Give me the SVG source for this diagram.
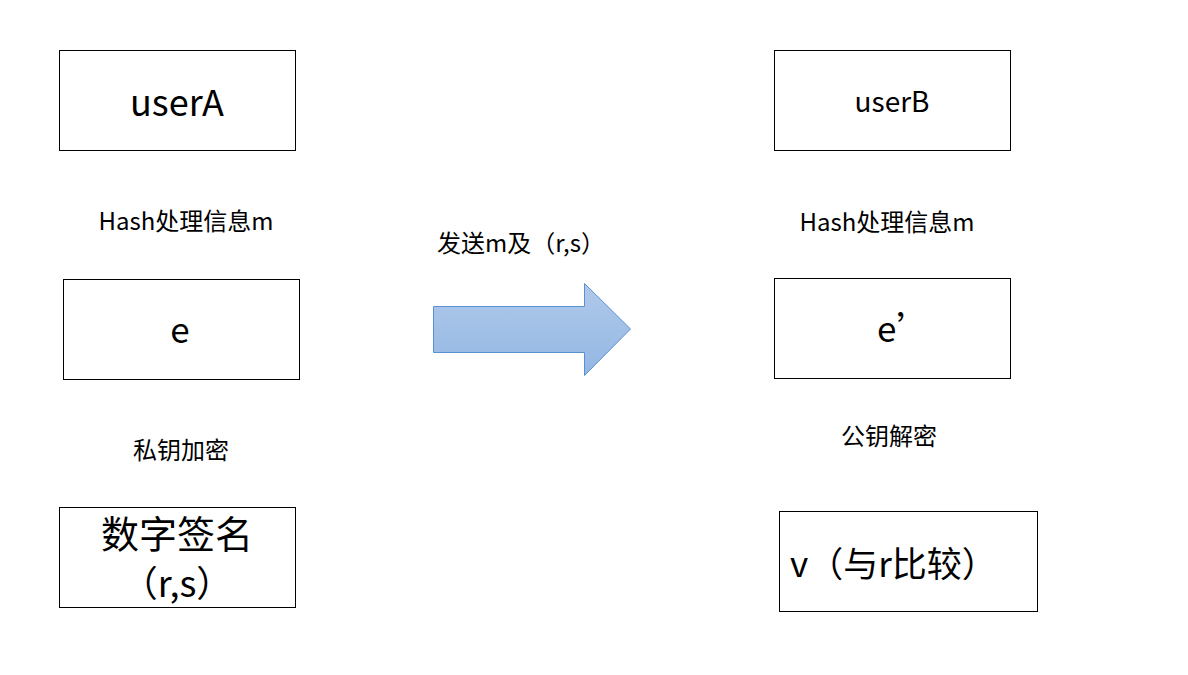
<svg xmlns="http://www.w3.org/2000/svg" width="1188" height="675" viewBox="0 0 1188 675">
<style>
.box{fill:#fff;stroke:#000;stroke-width:1}
text{font-family:"Noto Sans CJK SC","Noto Sans",sans-serif;fill:#000}
.lbl{font-size:24px}
</style>
<defs>
<linearGradient id="ag" x1="0" y1="0" x2="0" y2="1">
<stop offset="0" stop-color="#b0c9ea"/>
<stop offset="1" stop-color="#93b7e3"/>
</linearGradient>
</defs>
<rect width="1188" height="675" fill="#fff"/>
<g id="userA"><rect class="box" x="59.5" y="50.5" width="236" height="100"/><text x="177" y="116" font-size="36" text-anchor="middle">userA</text></g>
<g id="e"><rect class="box" x="63.5" y="279.5" width="236" height="100"/><text x="180" y="343" font-size="35" text-anchor="middle">e</text></g>
<g id="sig"><rect class="box" x="59.5" y="507.5" width="236" height="100"/><text x="177" y="548" font-size="38" text-anchor="middle">数字签名</text><text x="177" y="597" font-size="36" text-anchor="middle">（r,s）</text></g>
<g id="userB"><rect class="box" x="774.5" y="50.5" width="236" height="100"/><text x="892" y="112" font-size="28" text-anchor="middle">userB</text></g>
<g id="e2"><rect class="box" x="774.5" y="278.5" width="236" height="100"/><text x="877" y="342" font-size="35">e’</text></g>
<g id="v"><rect class="box" x="779.5" y="511.5" width="258" height="100"/><text x="790" y="577" font-size="35">v（与r比较）</text></g>
<g id="labels">
<text class="lbl" x="186" y="230" text-anchor="middle">Hash处理信息m</text>
<text class="lbl" x="887" y="231" text-anchor="middle">Hash处理信息m</text>
<text class="lbl" x="181" y="459" text-anchor="middle">私钥加密</text>
<text class="lbl" x="889" y="445" text-anchor="middle">公钥解密</text>
<text class="lbl" x="521" y="252" text-anchor="middle">发送m及（r,s）</text>
</g>
<g id="connectors">
<path d="M433.5 306.5 H584.5 V283.5 L630.5 329 L584.5 375.5 V352.5 H433.5 Z" fill="url(#ag)" stroke="#5b8fd3" stroke-width="1"/>
</g>
</svg>
